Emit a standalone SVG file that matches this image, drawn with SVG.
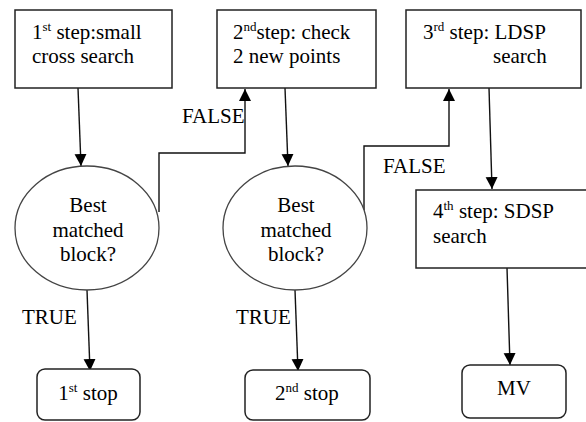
<svg xmlns="http://www.w3.org/2000/svg" width="586" height="422" viewBox="0 0 586 422">
<defs>
<marker id="ah" markerUnits="userSpaceOnUse" markerWidth="12" markerHeight="14" viewBox="0 0 12 14" refX="12" refY="6" orient="auto">
<path d="M0,0 L12,6 L0,12 Z" fill="#000"/>
</marker>
<style>
text{font-family:"Liberation Serif","Times New Roman",serif;font-size:21px;fill:#000}
.sup{font-size:13px}
.box{fill:#fff;stroke:#222;stroke-width:1.5}
.ell{fill:#fff;stroke:#444;stroke-width:1.3}
.conn{fill:none;stroke:#111;stroke-width:1.4}
.c{text-anchor:middle}
</style>
</defs>
<rect width="586" height="422" fill="#fff"/>
<g id="connectors">
<path class="conn" d="M78,88 L81,166" marker-end="url(#ah)"/>
<path class="conn" d="M159,212 L159,153 L245,153 L245,89" marker-end="url(#ah)"/>
<path class="conn" d="M87,290 L90,371" marker-end="url(#ah)"/>
<path class="conn" d="M285,88 L288,166" marker-end="url(#ah)"/>
<path class="conn" d="M364,210 L364,146 L449,146 L449,89" marker-end="url(#ah)"/>
<path class="conn" d="M295,290 L298,371" marker-end="url(#ah)"/>
<path class="conn" d="M489,88 L492,189" marker-end="url(#ah)"/>
<path class="conn" d="M507,268 L510,365" marker-end="url(#ah)"/>
<text x="182" y="123">FALSE</text>
<text x="383" y="173">FALSE</text>
<text x="22" y="324">TRUE</text>
<text x="236" y="324">TRUE</text>
</g>
<g id="step1">
<rect class="box" x="15" y="10" width="157" height="78"/>
<text x="32" y="39">1<tspan class="sup" dy="-8">st</tspan><tspan dy="8"> step:small</tspan></text>
<text x="32" y="63">cross search</text>
</g>
<g id="step2">
<rect class="box" x="217" y="10" width="159" height="78"/>
<text x="233" y="39">2<tspan class="sup" dy="-8">nd</tspan><tspan dy="8">step: check</tspan></text>
<text x="233" y="63">2 new points</text>
</g>
<g id="step3">
<rect class="box" x="406" y="10" width="175" height="78"/>
<text x="423" y="39">3<tspan class="sup" dy="-8">rd</tspan><tspan dy="8"> step: LDSP</tspan></text>
<text x="493" y="63">search</text>
</g>
<g id="decision1">
<ellipse class="ell" cx="87" cy="228" rx="72" ry="62"/>
<text class="c" x="88" y="212">Best</text>
<text class="c" x="88" y="237">matched</text>
<text class="c" x="88" y="261">block?</text>
</g>
<g id="decision2">
<ellipse class="ell" cx="295" cy="228" rx="72" ry="62"/>
<text class="c" x="296" y="212">Best</text>
<text class="c" x="296" y="237">matched</text>
<text class="c" x="296" y="261">block?</text>
</g>
<g id="step4">
<rect class="box" x="416" y="190" width="180" height="78"/>
<text x="433" y="218">4<tspan class="sup" dy="-8">th</tspan><tspan dy="8"> step: SDSP</tspan></text>
<text x="433" y="243">search</text>
</g>
<g id="stop1">
<rect class="box" x="37" y="369" width="103" height="51" rx="8"/>
<text class="c" x="88" y="400">1<tspan class="sup" dy="-8">st</tspan><tspan dy="8"> stop</tspan></text>
</g>
<g id="stop2">
<rect class="box" x="245" y="370" width="125" height="50" rx="8"/>
<text class="c" x="307" y="400">2<tspan class="sup" dy="-8">nd</tspan><tspan dy="8"> stop</tspan></text>
</g>
<g id="mv">
<rect class="box" x="462" y="365" width="104" height="53" rx="8"/>
<text class="c" x="514" y="395">MV</text>
</g>
</svg>
